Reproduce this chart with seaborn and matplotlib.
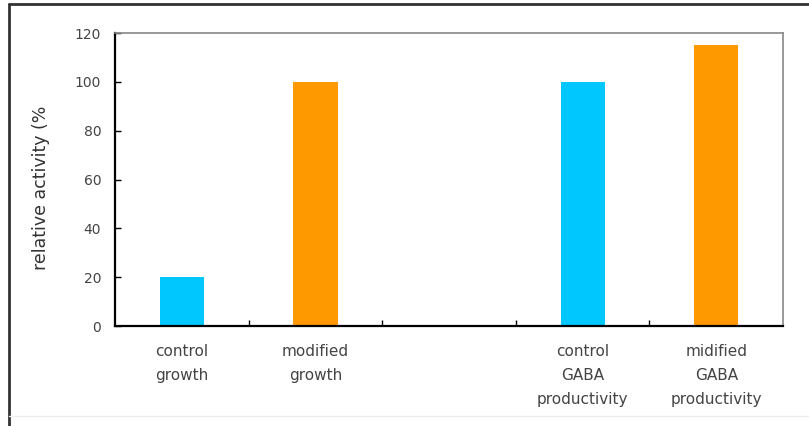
import matplotlib
matplotlib.use("Agg")
import matplotlib.pyplot as plt
from matplotlib.lines import Line2D
import seaborn as sns
import pandas as pd
import numpy as np

categories = ["control\ngrowth", "modified\ngrowth", "",
              "control\nGABA\nproductivity", "midified\nGABA\nproductivity"]
values = [20, 100, np.nan, 100, 115]
bar_colors = ["#00C8FF", "#FF9900", "#FFFFFF", "#00C8FF", "#FF9900"]
y_ticks = [0, 20, 40, 60, 80, 100, 120]
y_label = "relative activity (%"

sns.set_theme(style="white")
plt.rcParams["font.family"] = ["DejaVu Sans"]

df = pd.DataFrame({"category": categories, "value": values})

fig = plt.figure(figsize=(8.09, 4.26), dpi=100)
ax = fig.add_axes([0.1422, 0.2347, 0.8258, 0.6878])

sns.barplot(data=df, x="category", y="value", hue="category",
            palette=bar_colors, legend=False, width=0.33, ax=ax,
            saturation=1, edgecolor="none", order=categories)

ax.set_xlim(-0.5, 4.5)
ax.set_ylim(0, 120)
ax.set_yticks(y_ticks)
ax.set_yticklabels([str(t) for t in y_ticks], fontsize=10, color="#444444")
ax.tick_params(axis="y", direction="in", length=4, width=1, color="black",
               left=True, pad=10)

# boundary ticks between categories, labels centred under each bar
ax.set_xticks([0.5, 1.5, 2.5, 3.5])
ax.set_xticklabels([])
ax.tick_params(axis="x", which="major", direction="in", length=4, width=1,
               color="black", bottom=True)
ax.set_xticks(range(len(categories)), minor=True)
ax.set_xticklabels(categories, minor=True, fontsize=11, color="#444444",
                   linespacing=1.75)
ax.tick_params(axis="x", which="minor", length=0, pad=13)

ax.set_xlabel("")
ax.set_ylabel(y_label, fontsize=12.5, color="#333333")
ax.yaxis.set_label_coords(-0.097, 0.47)

for side in ["left", "bottom"]:
    ax.spines[side].set_color("black")
    ax.spines[side].set_linewidth(1.6)
for side in ["top", "right"]:
    ax.spines[side].set_color("#888888")
    ax.spines[side].set_linewidth(1.2)

# outer frame (top and left edges)
W, H = 809, 426
fig.add_artist(Line2D([9 / W, 1.0], [1 - 4 / H, 1 - 4 / H],
                      color="#333333", lw=2, transform=fig.transFigure))
fig.add_artist(Line2D([9 / W, 9 / W], [0.0, 1 - 4 / H],
                      color="#333333", lw=2, transform=fig.transFigure))
fig.add_artist(Line2D([9 / W, 1.0], [1 - 416 / H, 1 - 416 / H],
                      color="#EEEEEE", lw=1, transform=fig.transFigure))

fig.savefig("out.png", dpi=100)
